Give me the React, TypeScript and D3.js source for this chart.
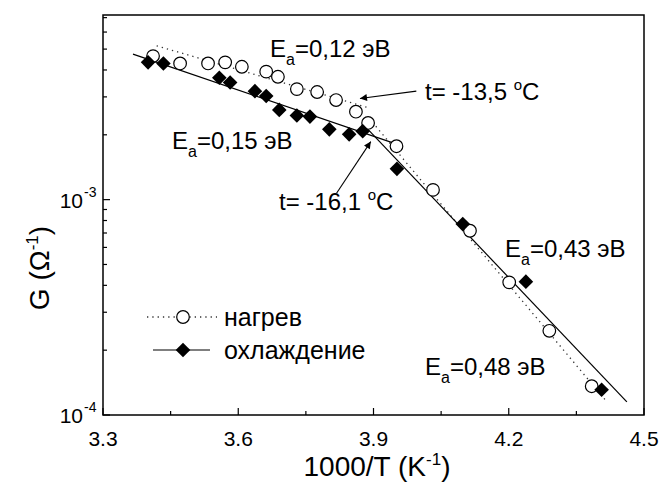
import React from 'react';
import * as d3 from 'd3';

// heating (нагрев) - open circles
const heatX = [3.411, 3.471, 3.533, 3.571, 3.608, 3.662, 3.688, 3.730, 3.775, 3.817, 3.861, 3.888, 3.951, 4.032, 4.114, 4.201, 4.290, 4.384];
const heatG = [4.64e-3, 4.29e-3, 4.29e-3, 4.34e-3, 4.14e-3, 3.93e-3, 3.72e-3, 3.26e-3, 3.16e-3, 2.90e-3, 2.56e-3, 2.27e-3, 1.77e-3, 1.11e-3, 7.17e-4, 4.13e-4, 2.46e-4, 1.36e-4];

// cooling (охлаждение) - filled diamonds
const coolX = [3.400, 3.434, 3.558, 3.582, 3.637, 3.662, 3.691, 3.730, 3.759, 3.802, 3.846, 3.876, 3.952, 4.098, 4.238, 4.406];
const coolG = [4.34e-3, 4.29e-3, 3.68e-3, 3.50e-3, 3.19e-3, 3.03e-3, 2.61e-3, 2.46e-3, 2.43e-3, 2.12e-3, 2.01e-3, 2.08e-3, 1.39e-3, 7.70e-4, 4.16e-4, 1.31e-4];

// linear fits (in log G)
const heatFits = [
  [[3.419, 5.18e-3], [3.892, 2.66e-3]],
  [[3.890, 2.39e-3], [4.418, 1.15e-4]],
];
const coolFits = [
  [[3.3665, 4.74e-3], [3.948, 1.82e-3]],
  [[3.883, 2.17e-3], [4.462, 1.15e-4]],
];

// arrows: [from, to]
const arrows = [
  [[3.995, 3.19e-3], [3.870, 2.95e-3]],
  [[3.818, 1.07e-3], [3.894, 1.86e-3]],
];

const xTicks = [3.3, 3.6, 3.9, 4.2, 4.5];
const xMinor = [3.45, 3.75, 4.05, 4.35];
const yMajor = [1e-4, 1e-3];
const yExp = ['-4', '-3'];
const yMinor = [2e-4, 3e-4, 4e-4, 5e-4, 6e-4, 7e-4, 8e-4, 9e-4, 2e-3, 3e-3, 4e-3, 5e-3, 6e-3, 7e-3];

const W = 662, H = 490;
const left = 103, right = 644, top = 15, bottom = 415;
const font = "Arial, 'Liberation Sans', sans-serif";

const x = d3.scaleLinear().domain([3.3, 4.5]).range([left, right]);
const y = d3.scaleLog().domain([1e-4, 7.2e-3]).range([bottom, top]);
const line = d3.line<number[]>().x(d => x(d[0])).y(d => y(d[1]));

function diamond(cx: number, cy: number, r: number) {
  return `M${cx},${cy - r}L${cx + r},${cy}L${cx},${cy + r}L${cx - r},${cy}Z`;
}

function Ea(props: { px: number; py: number; val: string }) {
  return (
    <text x={props.px} y={props.py} fontSize={24} fontFamily={font}>
      E<tspan dy={8} fontSize={16}>a</tspan><tspan dy={-8}>=0,{props.val} эВ</tspan>
    </text>
  );
}

function TLabel(props: { px: number; py: number; val: string }) {
  return (
    <text x={props.px} y={props.py} fontSize={24} fontFamily={font}>
      t= {props.val} <tspan dy={-10} fontSize={15}>o</tspan><tspan dy={10}>C</tspan>
    </text>
  );
}

export default function App() {
  return (
    <svg width={W} height={H} style={{ position: 'absolute', left: 0, top: 0, background: '#fff' }}>
      <defs>
        <marker id="ah" viewBox="0 0 10 10" refX="10" refY="5" markerWidth="9" markerHeight="7" orient="auto" markerUnits="userSpaceOnUse">
          <path d="M0,0L10,5L0,10Z" fill="#000" />
        </marker>
      </defs>

      {/* fits */}
      {heatFits.map((f, i) => (
        <path key={'hf' + i} d={line(f) || ''} fill="none" stroke="#333" strokeWidth={1.3} strokeDasharray="1.3,4" />
      ))}
      {coolFits.map((f, i) => (
        <path key={'cf' + i} d={line(f) || ''} fill="none" stroke="#000" strokeWidth={1.2} />
      ))}

      {/* points */}
      {heatX.map((v, i) => (
        <circle key={'h' + i} cx={x(v)} cy={y(heatG[i])} r={6.3} fill="#fff" stroke="#000" strokeWidth={1.2} />
      ))}
      {coolX.map((v, i) => (
        <path key={'c' + i} d={diamond(x(v), y(coolG[i]), 7.3)} fill="#000" />
      ))}

      {/* arrows */}
      {arrows.map((a, i) => (
        <line key={'a' + i} x1={x(a[0][0])} y1={y(a[0][1])} x2={x(a[1][0])} y2={y(a[1][1])} stroke="#000" strokeWidth={1.1} markerEnd="url(#ah)" />
      ))}

      {/* frame */}
      <rect x={left} y={top} width={right - left} height={bottom - top} fill="none" stroke="#000" strokeWidth={1.5} />

      {/* x ticks */}
      {xTicks.map(t => (
        <g key={'xt' + t}>
          <line x1={x(t)} x2={x(t)} y1={bottom} y2={bottom - 7} stroke="#000" strokeWidth={1.2} />
          <text x={x(t)} y={446} textAnchor="middle" fontSize={21} fontFamily={font}>{t.toFixed(1)}</text>
        </g>
      ))}
      {xMinor.map(t => (
        <line key={'xm' + t} x1={x(t)} x2={x(t)} y1={bottom} y2={bottom - 4} stroke="#000" strokeWidth={1.2} />
      ))}

      {/* y ticks */}
      {yMajor.map((t, i) => (
        <g key={'yt' + t}>
          <line x1={left} x2={left + 7} y1={y(t)} y2={y(t)} stroke="#000" strokeWidth={1.2} />
          <text x={83} y={y(t) + 8} textAnchor="end" fontSize={21} fontFamily={font}>10</text>
          <text x={84} y={y(t) - 3} fontSize={14} fontFamily={font}>{yExp[i]}</text>
        </g>
      ))}
      {yMinor.map(t => (
        <line key={'ym' + t} x1={left} x2={left + 4} y1={y(t)} y2={y(t)} stroke="#000" strokeWidth={1.2} />
      ))}

      {/* axis titles */}
      <text x={377} y={476} textAnchor="middle" fontSize={28} fontFamily={font}>
        1000/T (K<tspan dy={-11} fontSize={17}>-1</tspan><tspan dy={11}>)</tspan>
      </text>
      <text transform="translate(49,268) rotate(-90)" textAnchor="middle" fontSize={28} fontFamily={font}>
        G (Ω<tspan dy={-11} fontSize={17}>-1</tspan><tspan dy={11}>)</tspan>
      </text>

      {/* annotations */}
      <Ea px={270} py={57} val="12" />
      <Ea px={172} py={149} val="15" />
      <Ea px={505} py={257} val="43" />
      <Ea px={425} py={375} val="48" />
      <TLabel px={425} py={100} val="-13,5" />
      <TLabel px={279} py={210} val="-16,1" />

      {/* legend */}
      <line x1={147} x2={217} y1={317} y2={317} stroke="#333" strokeWidth={1.3} strokeDasharray="1.3,4" />
      <circle cx={183} cy={317} r={6.3} fill="#fff" stroke="#000" strokeWidth={1.2} />
      <text x={224} y={326} fontSize={25} fontFamily={font}>нагрев</text>
      <line x1={153} x2={210} y1={350} y2={350} stroke="#000" strokeWidth={1.2} />
      <path d={diamond(183, 350, 7.3)} fill="#000" />
      <text x={224} y={359} fontSize={25} fontFamily={font}>охлаждение</text>
    </svg>
  );
}
